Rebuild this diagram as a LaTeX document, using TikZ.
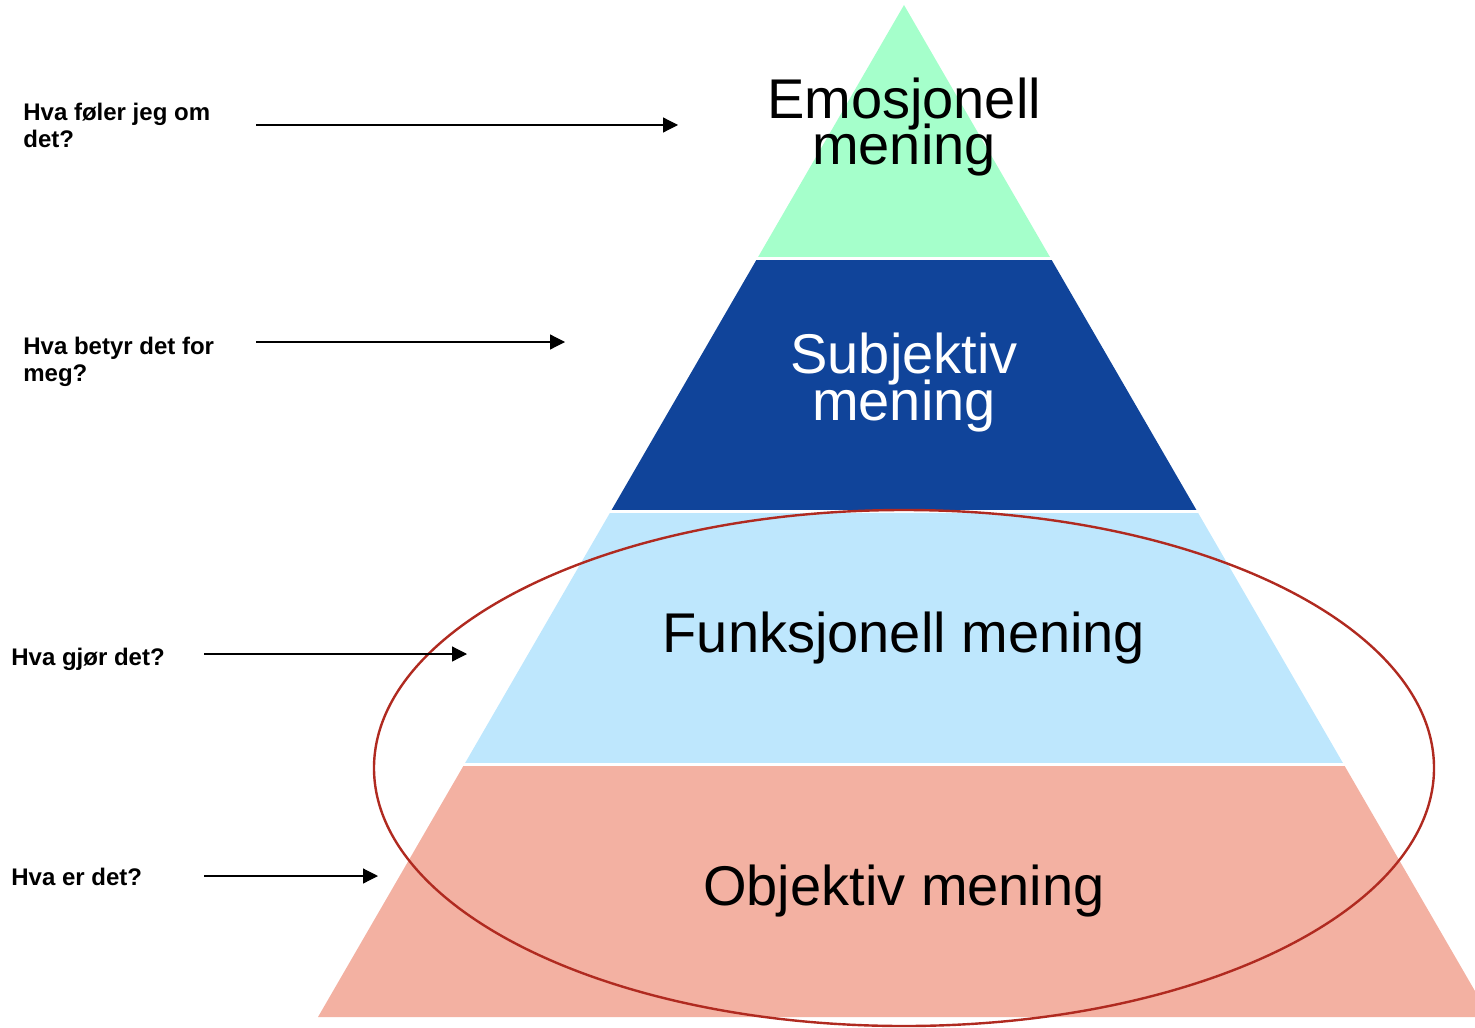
\documentclass[tikz,border=0pt]{standalone}
\usepackage{fontspec}
\setmainfont{Liberation Sans}
\usepackage{tikz}
\usetikzlibrary{arrows.meta,calc}

\definecolor{emogreen}{HTML}{A5FFCB}
\definecolor{subjblue}{HTML}{10449A}
\definecolor{funkblue}{HTML}{BEE7FD}
\definecolor{objsalmon}{HTML}{F3B1A2}
\definecolor{ringred}{HTML}{B02A20}

\begin{document}
\begin{tikzpicture}[
    x=0.5pt, y=-0.5pt,
    level/.style={font=\fontsize{28}{23.5}\selectfont, align=center, inner sep=0pt, anchor=base},
    question/.style={font=\bfseries\fontsize{12}{13.5}\selectfont, align=left, inner sep=0pt, anchor=base west},
    arrow/.style={-{Triangle[length=7.5pt,width=7.5pt]}, line width=0.6pt},
    gap/.style={white, line width=1.5pt}
]
\clip (0,0) rectangle (1475,1027);

% Pyramid corners
\coordinate (apex) at (904,5);
\coordinate (bl) at (318,1017);
\coordinate (br) at (1490,1017);

% Layers, top to bottom
\fill[emogreen] (apex) -- ($(apex)!0.25!(br)$) -- ($(apex)!0.25!(bl)$) -- cycle;
\fill[subjblue] ($(apex)!0.25!(bl)$) -- ($(apex)!0.25!(br)$) -- ($(apex)!0.5!(br)$) -- ($(apex)!0.5!(bl)$) -- cycle;
\fill[funkblue] ($(apex)!0.5!(bl)$) -- ($(apex)!0.5!(br)$) -- ($(apex)!0.75!(br)$) -- ($(apex)!0.75!(bl)$) -- cycle;
\fill[objsalmon] ($(apex)!0.75!(bl)$) -- ($(apex)!0.75!(br)$) -- (br) -- (bl) -- cycle;

% White gaps between layers
\foreach \t in {0.25,0.5,0.75}
    \draw[gap] ($(apex)!\t!(bl)+(-10,0)$) -- ($(apex)!\t!(br)+(10,0)$);

% Layer labels (base = last line)
\node[level] (emo) at (904,165) {Emosjonell\\[-4pt]mening};
\node[level, text=white] (subj) at (904,420) {Subjektiv\\[-4pt]mening};
\node[level] (funk) at (904,652) {Funksjonell mening};
\node[level] (obj) at (904,905) {Objektiv mening};

% Ring round the two lower layers
\draw[ringred, line width=1.2pt] (904,768) ellipse [x radius=265pt, y radius=129pt];

% Questions on the left
\node[question] (q1) at (23,148) {Hva føler jeg om\\det?};
\node[question] (q2) at (23,381) {Hva betyr det for\\meg?};
\node[question] (q3) at (11,665) {Hva gjør det?};
\node[question] (q4) at (11,885) {Hva er det?};

% Arrow ends
\coordinate (q1s) at (256,125);
\coordinate (q1e) at (678,125);
\coordinate (q2s) at (256,342);
\coordinate (q2e) at (565,342);
\coordinate (q3s) at (204,654);
\coordinate (q3e) at (467,654);
\coordinate (q4s) at (204,876);
\coordinate (q4e) at (378,876);

% Arrows
\draw[arrow] (q1s) -- (q1e);
\draw[arrow] (q2s) -- (q2e);
\draw[arrow] (q3s) -- (q3e);
\draw[arrow] (q4s) -- (q4e);

\end{tikzpicture}
\end{document}
